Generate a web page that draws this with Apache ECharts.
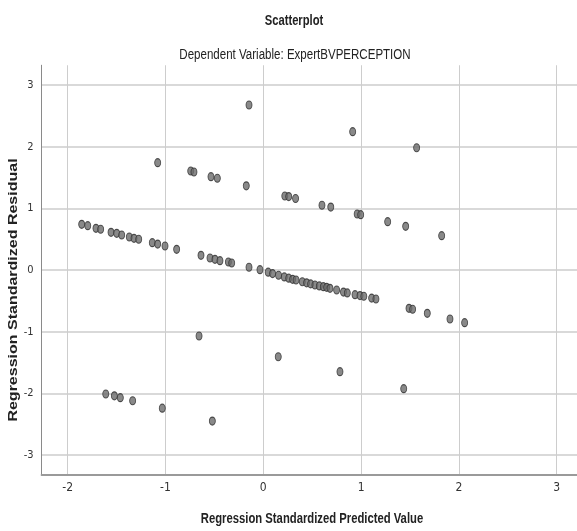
<!DOCTYPE html>
<html>
<head>
<meta charset="utf-8">
<script src="https://cdn.jsdelivr.net/npm/echarts@6/dist/echarts.min.js"></script>
<style>
html,body{margin:0;padding:0;background:#fff;}
#chart{width:577px;height:531px;}
</style>
</head>
<body>
<div id="chart"></div>
<script>
// Points lying on the diagonal band
const bandPredicted = [-1.857,-1.795,-1.711,-1.663,-1.557,-1.499,-1.448,-1.370,-1.322,-1.274,-1.135,-1.080,-1.005,-0.886,-0.637,-0.545,-0.494,-0.443,-0.357,-0.323,-0.146,-0.034,0.050,0.095,0.156,0.215,0.260,0.300,0.335,0.399,0.443,0.484,0.528,0.573,0.614,0.648,0.682,0.750,0.820,0.859,0.938,0.989,1.028,1.108,1.152,1.490,1.527,1.677,1.909,2.059];
const bandResidual  = [0.741,0.719,0.676,0.660,0.611,0.595,0.568,0.535,0.514,0.498,0.443,0.420,0.389,0.335,0.238,0.195,0.173,0.151,0.130,0.114,0.044,0.005,-0.035,-0.058,-0.085,-0.112,-0.132,-0.151,-0.162,-0.190,-0.208,-0.225,-0.243,-0.258,-0.270,-0.281,-0.297,-0.324,-0.358,-0.372,-0.400,-0.415,-0.426,-0.456,-0.470,-0.621,-0.637,-0.703,-0.795,-0.854];
// Points above the band
const upperPredicted = [-1.080,-0.742,-0.709,-0.535,-0.470,-0.174,-0.146,0.220,0.260,0.330,0.600,0.690,0.960,0.996,0.914,1.272,1.456,1.568,1.824];
const upperResidual  = [1.740,1.605,1.589,1.513,1.487,1.365,2.675,1.200,1.190,1.160,1.050,1.020,0.908,0.897,2.243,0.784,0.708,1.983,0.557];
// Points below the band
const lowerPredicted = [-0.657,0.153,0.784,1.436,-1.611,-1.523,-1.462,-1.336,-1.033,-0.521];
const lowerResidual  = [-1.070,-1.406,-1.649,-1.924,-2.010,-2.040,-2.070,-2.120,-2.240,-2.450];
// Tick labels
const xTicks = [-2,-1,0,1,2,3];
const yTicks = [-3,-2,-1,0,1,2,3];
// Texts
const chartTitle = 'Scatterplot';
const chartSubtitle = 'Dependent Variable: ExpertBVPERCEPTION';
const xAxisTitle = 'Regression Standardized Predicted Value';
const yAxisTitle = 'Regression Standardized Residual';

const pts = (xs, ys) => xs.map((x, i) => [x, ys[i]]);

const arial = "'Liberation Sans',Arial,sans-serif";
const cond = "'DejaVu Sans Condensed','Liberation Sans Narrow',sans-serif";
const markerStyle = {color:'#6b6b6b', borderColor:'#2e2e2e', borderWidth:1};
const mkSeries = (data) => ({
  type:'scatter', data, symbol:'circle', symbolSize:[6,8],
  itemStyle: markerStyle, emphasis:{disabled:true}, silent:true
});
const txt = (text, x, y, font, opts) => Object.assign({
  type:'text', x, y, silent:true,
  style:{text, font, fill:'#222', textAlign:'center', textVerticalAlign:'middle'}
}, opts);

const chart = echarts.init(document.getElementById('chart'), null, {renderer:'canvas'});
chart.setOption({
  animation:false,
  backgroundColor:'#ffffff',
  graphic:[
    txt(chartTitle, 294, 21, 'bold 14px ' + arial, {scaleX:0.8}),
    txt(chartSubtitle, 295, 55, 'normal 14px ' + arial, {scaleX:0.824}),
    txt(xAxisTitle, 312, 519, 'bold 14px ' + arial, {scaleX:0.805}),
    txt(yAxisTitle, 14, 290, 'bold 16px ' + arial, {rotation:Math.PI/2, scaleY:0.75})
  ],
  grid:{left:41.6, right:-9, top:65.25, bottom:56.25, containLabel:false, outerBoundsMode:'none'},
  xAxis:{
    type:'value', min:-2.267, max:3.3,
    axisLine:{show:true, onZero:false, lineStyle:{color:'#9a9a9a', width:2}},
    axisTick:{show:false, customValues:xTicks},
    axisLabel:{customValues:xTicks, margin:7, fontFamily:cond, fontSize:12, color:'#333'},
    splitLine:{show:true, lineStyle:{color:'#cdcdcd', width:1}}
  },
  yAxis:{
    type:'value', min:-3.32, max:3.32,
    axisLine:{show:true, onZero:false, lineStyle:{color:'#8a8a8a', width:1}},
    axisTick:{show:false, customValues:yTicks},
    axisLabel:{customValues:yTicks, margin:8, fontFamily:cond, fontSize:11, color:'#333'},
    splitLine:{show:true, lineStyle:{color:'#cdcdcd', width:1.5}}
  },
  series:[
    mkSeries(pts(bandPredicted, bandResidual)),
    mkSeries(pts(upperPredicted, upperResidual)),
    mkSeries(pts(lowerPredicted, lowerResidual))
  ]
});
</script>
</body>
</html>
